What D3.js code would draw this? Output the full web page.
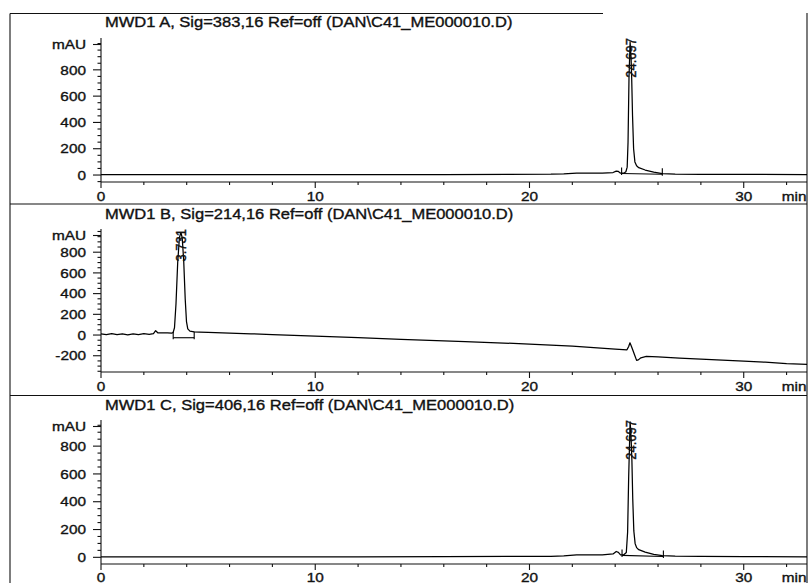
<!DOCTYPE html>
<html>
<head>
<meta charset="utf-8">
<script src="https://cdn.jsdelivr.net/npm/d3@7"></script>
<style>
  html, body { margin: 0; padding: 0; background: #fff; }
  svg { display: block; }
  text { font-family: "Liberation Sans", Arial, sans-serif; fill: #111; stroke: #111; stroke-width: 0.35px; }
</style>
</head>
<body>
<svg id="chart" width="809" height="583"></svg>
<script>
// ---- Chromatogram data (time in min, signal in mAU) ----
const panelTitles = [
  "MWD1 A, Sig=383,16 Ref=off (DAN\\C41_ME000010.D)",
  "MWD1 B, Sig=214,16 Ref=off (DAN\\C41_ME000010.D)",
  "MWD1 C, Sig=406,16 Ref=off (DAN\\C41_ME000010.D)"
];
const timeDomain = [0, 33];
const timeMajorTicks = [0, 10, 20, 30];
const timeMinorTicks = [2, 4, 6, 8, 12, 14, 16, 18, 22, 24, 26, 28, 32];
const timeUnit = "min";
const signalUnit = "mAU";
const signalDomains = [[-53, 1042], [-357, 1024], [-48, 988]];
const signalMajorTicks = [
  [0, 200, 400, 600, 800],
  [-200, 0, 200, 400, 600, 800],
  [0, 200, 400, 600, 800]
];

const traceA = [
  [0, 4], [1, 4], [3, 3], [5, 3], [8, 3], [10, 3], [13, 4], [16, 4], [19, 5], [21, 6],
  [21.6, 9], [22.2, 15], [22.8, 14], [23.4, 15], [23.9, 19], [24.05, 30], [24.15, 27],
  [24.25, 14], [24.4, 14], [24.5, 25], [24.56, 60], [24.6, 250], [24.645, 740],
  [24.697, 1010], [24.74, 900], [24.77, 740], [24.81, 450], [24.86, 200], [24.92, 100],
  [25.0, 70], [25.1, 56], [25.4, 38], [25.8, 22], [26.2, 10], [26.8, 6], [28, 5],
  [30, 5], [33, 4]
];
const traceB = [
  [0, 12], [0.25, 4], [0.5, 14], [0.75, 3], [1.0, 12], [1.25, 2], [1.5, 12], [1.75, 4],
  [2.0, 13], [2.25, 6], [2.45, 14], [2.55, 42], [2.65, 22], [2.9, 20], [3.1, 22],
  [3.3, 18], [3.37, 25], [3.43, 70], [3.5, 300], [3.58, 700], [3.66, 940], [3.731, 990],
  [3.79, 940], [3.86, 720], [3.93, 350], [3.99, 130], [4.05, 60], [4.15, 38], [4.35, 30],
  [4.6, 28], [5, 25], [6, 18], [7, 12], [8, 5], [10, -10], [12, -25], [14, -42],
  [17, -64], [20, -87], [22, -108], [24, -135], [24.55, -143], [24.63, -110],
  [24.69, -75], [24.76, -110], [24.83, -150], [24.92, -200], [25.0, -245], [25.08, -240],
  [25.2, -220], [25.45, -207], [26, -212], [27, -222], [28, -232], [30, -252],
  [31, -262], [32, -275], [33, -283]
];
const traceC = [
  [0, 3], [2, 3], [5, 3], [8, 4], [12, 4], [16, 5], [19, 6], [21, 7], [21.6, 10],
  [22.2, 18], [22.8, 17], [23.4, 18], [23.9, 24], [24.05, 42], [24.15, 36], [24.25, 18],
  [24.4, 18], [24.52, 35], [24.58, 180], [24.63, 580], [24.697, 975], [24.74, 870],
  [24.78, 700], [24.82, 420], [24.87, 190], [24.93, 100], [25.0, 70], [25.1, 55],
  [25.4, 38], [25.8, 22], [26.2, 12], [26.8, 8], [28, 6], [30, 5], [33, 4]
];
const traces = [traceA, traceB, traceC];

// Retention-time labels of the integrated peaks
const peakTimes = [24.697, 3.731, 24.697];
// Integration baselines: start and end [time, mAU]
const integrationA = [[24.30, 12], [26.20, 6]];
const integrationB = [[3.37, -26], [4.35, -26]];
const integrationC = [[24.32, 14], [26.25, 6]];
const integrations = [integrationA, integrationB, integrationC];

// ---- Layout ----
const svg = d3.select("#chart");
const frameLeft = 10, frameRight = 807;
const separators = [204, 395.5];
const panelGeom = [
  { top: 38, bottom: 182, title: 27 },
  { top: 229, bottom: 372, title: 218.5 },
  { top: 420, bottom: 564, title: 410 }
];
const stretchK = 1.18;
const x = d3.scaleLinear().domain(timeDomain).range([101, 808]);

// Widen glyphs horizontally and place the text by its anchor ("start", "middle", "end")
function placeText(sel, anchorX, align) {
  sel.attr("text-anchor", "start").attr("x", 0);
  sel.each(function (d) {
    const len = this.getComputedTextLength() * stretchK;
    const ax = typeof anchorX === "function" ? anchorX(d) : anchorX;
    const shift = align === "end" ? len : align === "middle" ? len / 2 : 0;
    d3.select(this).attr("textLength", len).attr("lengthAdjust", "spacingAndGlyphs")
      .attr("x", ax - shift);
  });
}

svg.append("defs").append("clipPath").attr("id", "plotClip")
  .append("rect").attr("x", 0).attr("y", 0).attr("width", frameRight).attr("height", 583);

// Frame
const frame = svg.append("g").attr("stroke", "#111").attr("stroke-width", 1.1).attr("fill", "none");
frame.append("line").attr("x1", frameLeft).attr("x2", 603).attr("y1", 13.5).attr("y2", 13.5);
frame.append("line").attr("x1", frameLeft).attr("x2", frameLeft).attr("y1", 13.5).attr("y2", 583);
frame.append("line").attr("x1", frameRight).attr("x2", frameRight).attr("y1", 13).attr("y2", 583);
separators.forEach(s => {
  frame.append("line").attr("x1", frameLeft).attr("x2", frameRight).attr("y1", s).attr("y2", s);
});

panelGeom.forEach((g, i) => {
  const y = d3.scaleLinear().domain(signalDomains[i]).range([g.bottom, g.top]);
  const p = svg.append("g");

  // Title
  p.append("text").attr("y", g.title).attr("font-size", 14)
    .text(panelTitles[i]).call(placeText, 105, "start");

  // Y axis
  const yAxisG = p.append("g").attr("stroke", "#111").attr("stroke-width", 1.1);
  yAxisG.append("line").attr("x1", x(0)).attr("x2", x(0)).attr("y1", g.top).attr("y2", g.bottom);
  const dom = signalDomains[i];
  const minor = d3.range(Math.ceil(dom[0] / 50) * 50, dom[1], 50)
    .filter(v => !signalMajorTicks[i].includes(v));
  yAxisG.selectAll("line.minor").data(minor).join("line").attr("class", "minor")
    .attr("x1", x(0) - 3.5).attr("x2", x(0)).attr("y1", d => y(d)).attr("y2", d => y(d));
  yAxisG.selectAll("line.major").data(signalMajorTicks[i]).join("line").attr("class", "major")
    .attr("x1", x(0) - 8).attr("x2", x(0)).attr("y1", d => y(d)).attr("y2", d => y(d));
  yAxisG.append("line").attr("x1", x(0) - 8).attr("x2", x(0))
    .attr("y1", g.top + 6.5).attr("y2", g.top + 6.5);

  p.selectAll("text.ytick").data(signalMajorTicks[i]).join("text").attr("class", "ytick")
    .attr("y", d => y(d)).attr("dy", "0.36em")
    .attr("font-size", 13).text(d => d).call(placeText, 86, "end");
  p.append("text").attr("y", g.top + 6.5).attr("dy", "0.36em")
    .attr("font-size", 13).text(signalUnit).call(placeText, 86, "end");

  // X axis
  const xAxisG = p.append("g").attr("stroke", "#111").attr("stroke-width", 1.1);
  xAxisG.append("line").attr("x1", x(0)).attr("x2", frameRight).attr("y1", g.bottom).attr("y2", g.bottom);
  xAxisG.selectAll("line.major").data(timeMajorTicks).join("line").attr("class", "major")
    .attr("x1", d => x(d)).attr("x2", d => x(d)).attr("y1", g.bottom).attr("y2", g.bottom + 6);
  xAxisG.selectAll("line.minor").data(timeMinorTicks).join("line").attr("class", "minor")
    .attr("x1", d => x(d)).attr("x2", d => x(d)).attr("y1", g.bottom).attr("y2", g.bottom + 3);
  const labelY = Math.min(g.bottom + 19, 581.5);
  p.selectAll("text.xtick").data(timeMajorTicks).join("text").attr("class", "xtick")
    .attr("y", labelY).attr("font-size", 13).text(d => d)
    .call(placeText, d => x(d), "middle");
  p.append("text").attr("y", labelY).attr("font-size", 13).text(timeUnit)
    .call(placeText, frameRight - 0.5, "end");

  // Signal trace
  const line = d3.line().x(d => x(d[0])).y(d => y(d[1]));
  p.append("path").datum(traces[i]).attr("clip-path", "url(#plotClip)")
    .attr("fill", "none").attr("stroke", "#000").attr("stroke-width", 1.25)
    .attr("stroke-linejoin", "round").attr("d", line);

  // Integration baseline with start/end marks
  const ib = integrations[i];
  const ig = p.append("g").attr("stroke", "#000").attr("stroke-width", 1.1).attr("fill", "none");
  ig.append("path").datum(ib).attr("d", line);
  ib.forEach(pt => {
    ig.append("line").attr("x1", x(pt[0])).attr("x2", x(pt[0]))
      .attr("y1", y(pt[1]) - 6).attr("y2", y(pt[1]) + 1.5);
  });

  // Retention time label, written upwards and centred on the peak
  const px = x(peakTimes[i]);
  p.append("text")
    .attr("transform", `translate(${px},${g.top}) rotate(-90) scale(1,${stretchK})`)
    .attr("text-anchor", "end").attr("dy", "0.36em").attr("font-size", 13)
    .text(peakTimes[i].toFixed(3));
});
</script>
</body>
</html>
